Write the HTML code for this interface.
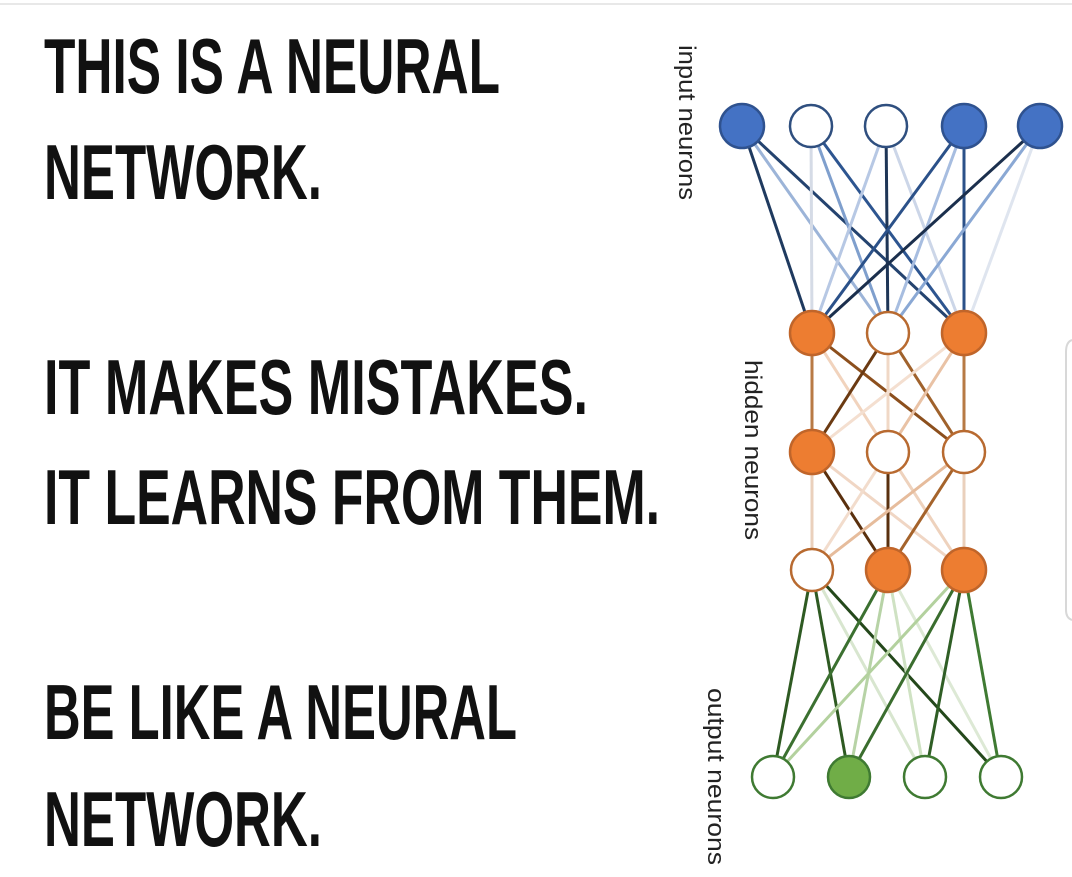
<!DOCTYPE html>
<html><head><meta charset="utf-8"><style>
html,body{margin:0;padding:0;background:#fff;width:1072px;height:877px;overflow:hidden}
svg{display:block}
.t{font-family:"Liberation Sans Narrow","Liberation Sans",sans-serif;font-weight:bold;font-size:78px;fill:#111}
.l{font-family:"Liberation Sans",sans-serif;font-size:24px;fill:#222}
</style></head><body>
<svg width="1072" height="877" viewBox="0 0 1072 877" xmlns="http://www.w3.org/2000/svg">
<rect width="1072" height="877" fill="#fff"/>
<line x1="0" y1="4" x2="1072" y2="4" stroke="#e8e8e8" stroke-width="2"/>
<path d="M1072 340 Q1066 342 1066 352 L1066 610 Q1066 618 1072 620" fill="none" stroke="#d8d8d8" stroke-width="2"/>
<g class="t">
<text x="44" y="93" textLength="456" lengthAdjust="spacingAndGlyphs">THIS IS A NEURAL</text>
<text x="44" y="199" textLength="278" lengthAdjust="spacingAndGlyphs">NETWORK.</text>
<text x="44" y="414" textLength="544" lengthAdjust="spacingAndGlyphs">IT MAKES MISTAKES.</text>
<text x="44" y="524" textLength="616" lengthAdjust="spacingAndGlyphs">IT LEARNS FROM THEM.</text>
<text x="44" y="739" textLength="473" lengthAdjust="spacingAndGlyphs">BE LIKE A NEURAL</text>
<text x="44" y="846" textLength="278" lengthAdjust="spacingAndGlyphs">NETWORK.</text>
</g>
<text class="l" transform="translate(679,45) rotate(90)" textLength="155" lengthAdjust="spacingAndGlyphs">input neurons</text>
<text class="l" transform="translate(745,360) rotate(90)" textLength="180" lengthAdjust="spacingAndGlyphs">hidden neurons</text>
<text class="l" transform="translate(708,688) rotate(90)" textLength="177" lengthAdjust="spacingAndGlyphs">output neurons</text>
<g stroke-width="3" fill="none">
<line x1="742" y1="126" x2="812" y2="333" stroke="#1f3a5f"/>
<line x1="742" y1="126" x2="888" y2="333" stroke="#9cb4d8"/>
<line x1="742" y1="126" x2="964" y2="333" stroke="#24436f"/>
<line x1="811" y1="126" x2="812" y2="333" stroke="#d5dbe6"/>
<line x1="811" y1="126" x2="888" y2="333" stroke="#7f9fcd"/>
<line x1="811" y1="126" x2="964" y2="333" stroke="#2d5590"/>
<line x1="886" y1="126" x2="812" y2="333" stroke="#b7c8e4"/>
<line x1="886" y1="126" x2="888" y2="333" stroke="#1e3556"/>
<line x1="886" y1="126" x2="964" y2="333" stroke="#ccd6e8"/>
<line x1="964" y1="126" x2="812" y2="333" stroke="#2b5189"/>
<line x1="964" y1="126" x2="888" y2="333" stroke="#a7bde0"/>
<line x1="964" y1="126" x2="964" y2="333" stroke="#2b5189"/>
<line x1="1040" y1="126" x2="812" y2="333" stroke="#1b2f4d"/>
<line x1="1040" y1="126" x2="888" y2="333" stroke="#8aa8d4"/>
<line x1="1040" y1="126" x2="964" y2="333" stroke="#dfe5ef"/>
<line x1="812" y1="333" x2="812" y2="452" stroke="#b87a45"/>
<line x1="812" y1="333" x2="888" y2="452" stroke="#f1d3bd"/>
<line x1="812" y1="333" x2="964" y2="452" stroke="#8c4f1d"/>
<line x1="888" y1="333" x2="812" y2="452" stroke="#6b3a12"/>
<line x1="888" y1="333" x2="888" y2="452" stroke="#f0d8c6"/>
<line x1="888" y1="333" x2="964" y2="452" stroke="#a0622c"/>
<line x1="964" y1="333" x2="812" y2="452" stroke="#f4dfd0"/>
<line x1="964" y1="333" x2="888" y2="452" stroke="#e9c2a5"/>
<line x1="964" y1="333" x2="964" y2="452" stroke="#b77a44"/>
<line x1="812" y1="452" x2="812" y2="570" stroke="#ead0bc"/>
<line x1="812" y1="452" x2="888" y2="570" stroke="#5a300e"/>
<line x1="812" y1="452" x2="964" y2="570" stroke="#f0d6c4"/>
<line x1="888" y1="452" x2="812" y2="570" stroke="#f2dccc"/>
<line x1="888" y1="452" x2="888" y2="570" stroke="#5a300e"/>
<line x1="888" y1="452" x2="964" y2="570" stroke="#eed2bd"/>
<line x1="964" y1="452" x2="812" y2="570" stroke="#e6bc9c"/>
<line x1="964" y1="452" x2="888" y2="570" stroke="#a5632b"/>
<line x1="964" y1="452" x2="964" y2="570" stroke="#ead0bc"/>
<line x1="812" y1="570" x2="773" y2="777" stroke="#2e5a22"/>
<line x1="812" y1="570" x2="849" y2="777" stroke="#2e5a22"/>
<line x1="812" y1="570" x2="925" y2="777" stroke="#d8e6cf"/>
<line x1="812" y1="570" x2="1001" y2="777" stroke="#24481b"/>
<line x1="888" y1="570" x2="773" y2="777" stroke="#3b7030"/>
<line x1="888" y1="570" x2="849" y2="777" stroke="#b7d3a6"/>
<line x1="888" y1="570" x2="925" y2="777" stroke="#cfe2c3"/>
<line x1="888" y1="570" x2="1001" y2="777" stroke="#dde9d5"/>
<line x1="964" y1="570" x2="773" y2="777" stroke="#b3d19e"/>
<line x1="964" y1="570" x2="849" y2="777" stroke="#3a6d2e"/>
<line x1="964" y1="570" x2="925" y2="777" stroke="#2f5e25"/>
<line x1="964" y1="570" x2="1001" y2="777" stroke="#3f7a32"/>
</g>
<g stroke-width="2.5">
<circle cx="742" cy="126" r="22" fill="#4472c4" stroke="#2f528f"/>
<circle cx="811" cy="126" r="21" fill="#fff" stroke="#2f4f7f"/>
<circle cx="886" cy="126" r="21" fill="#fff" stroke="#2f4f7f"/>
<circle cx="964" cy="126" r="22" fill="#4472c4" stroke="#2f528f"/>
<circle cx="1040" cy="126" r="22" fill="#4472c4" stroke="#2f528f"/>
<circle cx="812" cy="333" r="22" fill="#ed7d31" stroke="#c0652a"/>
<circle cx="888" cy="333" r="21" fill="#fff" stroke="#b86a30"/>
<circle cx="964" cy="333" r="22" fill="#ed7d31" stroke="#c0652a"/>
<circle cx="812" cy="452" r="22" fill="#ed7d31" stroke="#c0652a"/>
<circle cx="888" cy="452" r="21" fill="#fff" stroke="#b86a30"/>
<circle cx="964" cy="452" r="21" fill="#fff" stroke="#b86a30"/>
<circle cx="812" cy="570" r="21" fill="#fff" stroke="#b86a30"/>
<circle cx="888" cy="570" r="22" fill="#ed7d31" stroke="#c0652a"/>
<circle cx="964" cy="570" r="22" fill="#ed7d31" stroke="#c0652a"/>
<circle cx="773" cy="777" r="21" fill="#fff" stroke="#3f7a32"/>
<circle cx="849" cy="777" r="21" fill="#70ad47" stroke="#3f7a32"/>
<circle cx="925" cy="777" r="21" fill="#fff" stroke="#3f7a32"/>
<circle cx="1001" cy="777" r="21" fill="#fff" stroke="#3f7a32"/>
</g>
</svg>
</body></html>
